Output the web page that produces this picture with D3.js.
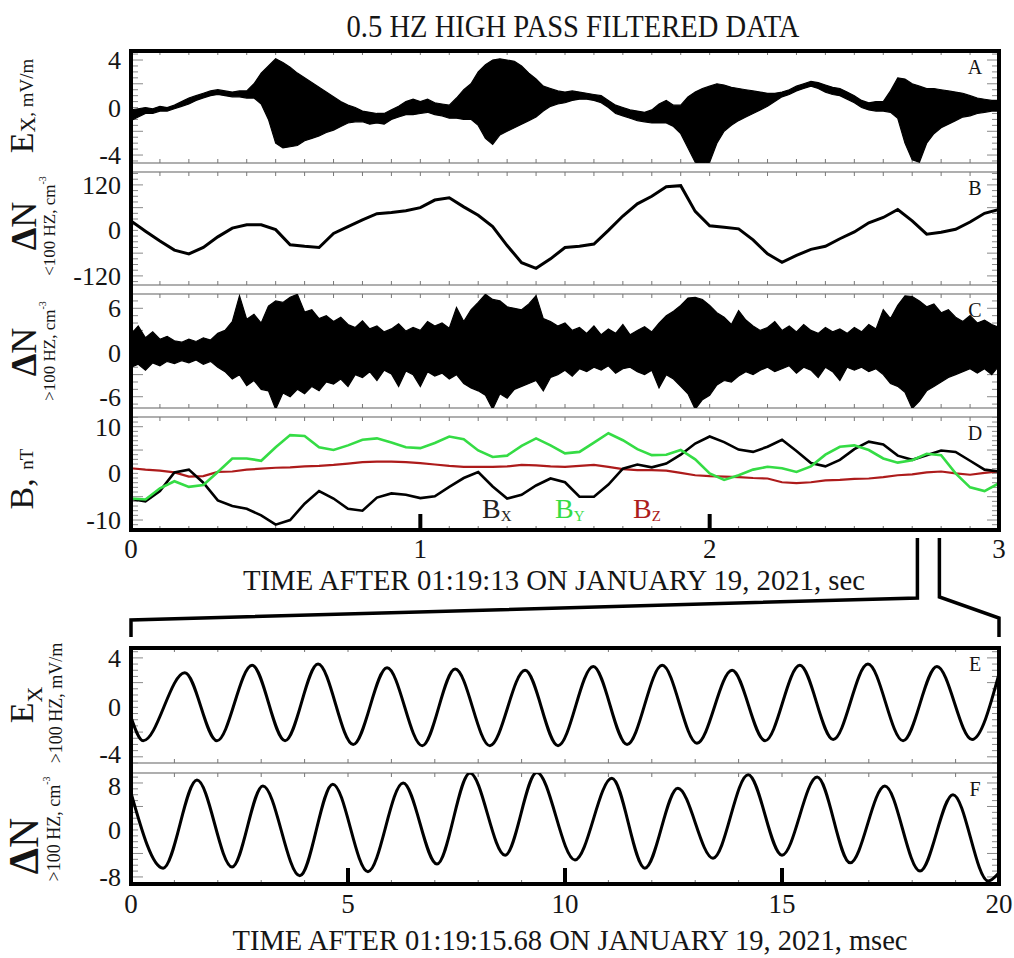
<!DOCTYPE html>
<html><head><meta charset="utf-8">
<script src="https://cdn.jsdelivr.net/npm/d3@7"></script>
<style>
body{margin:0;background:#fff}
svg{display:block}
text{font-family:"Liberation Serif","Times New Roman",serif;fill:#151515}
</style>
</head><body>
<svg id="c" width="1014" height="958"></svg>
<script>
// ---------------- DATA ----------------
// top section: seconds after 01:19:13
const xTopTicks = [0, 1, 2, 3];
const xBotTicks = [0, 5, 10, 15, 20];
const aTicks = [-4, 0, 4];
const bTicks = [-120, 0, 120];
const cTicks = [-6, 0, 6];
const dTicks = [-10, 0, 10];
const eTicks = [-4, 0, 4];
const fTicks = [-8, 0, 8];

// Panels A and C: envelope of the dense waveform, sampled every 0.025 s
const envTimes = d3.range(121).map(i => i * 0.025);
const aUpper = [
 -0.2,-0.1,0.0,-0.1,0.1,0.0,0.2,0.5,0.8,1.0,
 1.2,1.4,1.5,1.4,1.3,1.4,1.4,2.0,2.9,3.5,
 4.1,3.8,3.4,2.9,2.5,2.1,1.7,1.3,0.9,0.5,
 0.2,0.0,-0.3,-0.4,-0.5,-0.5,-0.2,0.1,0.5,0.7,
 0.5,0.7,0.4,0.3,0.2,0.8,1.5,2.0,3.0,3.6,
 4.0,4.1,4.0,3.9,3.5,2.9,2.4,1.8,1.6,1.4,
 1.3,1.4,1.3,1.2,1.1,1.0,0.6,0.2,0.0,-0.2,
 -0.3,-0.4,-0.2,0.3,0.6,0.2,0.2,0.9,1.3,1.6,
 1.8,2.0,1.9,1.7,1.6,1.5,1.4,1.3,1.2,1.2,
 1.3,1.5,1.8,2.0,2.2,2.1,1.9,1.7,1.6,1.3,
 1.0,0.6,0.4,0.5,0.5,1.4,2.5,2.4,2.0,1.8,
 1.6,1.6,1.5,1.4,1.3,1.2,1.0,0.8,0.7,0.6,
 0.6];
const aLower = [
 -1.1,-0.8,-0.5,-0.5,-0.3,-0.3,-0.1,0.1,0.3,0.6,
 0.8,1.0,1.1,1.0,0.9,0.9,0.8,0.8,0.3,-1.0,
 -3.0,-3.4,-3.3,-3.2,-2.8,-2.6,-2.4,-2.1,-1.9,-1.6,
 -1.3,-1.2,-1.2,-1.4,-1.3,-1.4,-1.0,-0.8,-0.6,-0.6,
 -0.5,-0.4,-0.6,-0.7,-0.9,-0.9,-1.0,-1.0,-1.5,-2.6,
 -3.1,-2.3,-2.0,-1.7,-1.4,-1.1,-0.8,-0.3,0.1,0.3,
 0.4,0.6,0.7,0.7,0.6,0.4,0.0,-0.5,-0.7,-0.9,
 -1.1,-1.2,-1.3,-1.3,-1.3,-1.6,-2.2,-3.4,-4.6,-4.7,
 -4.6,-3.0,-2.0,-1.5,-1.1,-0.8,-0.5,-0.2,0.1,0.5,
 0.9,1.1,1.4,1.6,1.8,1.6,1.3,1.1,1.0,0.7,
 0.4,0.0,-0.2,-0.3,-0.3,-0.4,-0.9,-3.0,-4.4,-4.6,
 -3.0,-2.2,-1.7,-1.4,-1.1,-0.8,-0.7,-0.5,-0.4,-0.3,
 -0.3];
const cUpper = [
 2.5,3.6,2.0,2.8,1.8,2.2,1.6,1.4,1.8,1.5,
 2.0,1.7,2.6,3.0,4.2,7.7,4.5,5.2,4.0,6.3,
 7.0,6.8,7.5,7.9,5.5,5.8,4.6,5.0,4.2,4.8,
 3.8,3.4,4.3,3.2,3.6,2.8,3.2,3.9,2.9,3.4,
 3.0,4.2,3.6,4.0,3.3,6.1,4.2,5.8,6.8,7.9,
 7.2,7.0,6.2,6.0,5.8,6.6,7.7,4.6,4.2,3.6,
 4.0,3.0,3.4,2.6,3.6,2.4,3.2,2.6,3.8,2.4,
 3.0,3.5,2.8,4.0,5.0,5.6,6.4,7.4,7.5,7.2,
 6.4,5.4,4.8,3.8,5.7,4.4,3.6,3.0,3.4,4.2,
 3.0,3.6,2.8,3.8,3.0,2.6,3.4,2.8,3.2,2.6,
 3.4,2.8,3.8,3.2,5.8,4.6,6.4,7.7,7.6,7.0,
 6.2,6.6,5.4,5.8,4.8,4.2,5.0,4.0,4.4,3.8,
 3.4];
const cLower = [
 -2.0,-1.6,-2.4,-1.4,-1.8,-1.2,-1.5,-1.1,-1.4,-1.0,
 -1.6,-1.2,-2.0,-2.6,-3.6,-3.0,-4.5,-3.8,-5.0,-5.2,
 -7.7,-5.5,-6.0,-5.0,-5.6,-4.6,-5.2,-4.0,-4.3,-3.6,
 -4.6,-3.0,-3.4,-2.6,-3.8,-2.4,-2.9,-4.6,-2.5,-3.0,
 -4.6,-2.6,-3.2,-2.8,-3.6,-3.0,-4.2,-4.8,-5.2,-5.8,
 -7.7,-5.6,-6.2,-5.0,-4.6,-4.2,-3.8,-5.2,-3.4,-3.0,
 -2.4,-3.2,-2.2,-2.6,-2.0,-2.4,-1.8,-2.8,-2.2,-2.0,
 -2.6,-3.0,-2.4,-4.8,-3.0,-3.6,-4.6,-5.6,-7.7,-6.4,
 -5.8,-4.4,-3.8,-4.0,-3.2,-2.6,-3.0,-2.4,-2.0,-2.6,
 -2.2,-1.8,-2.8,-2.0,-2.4,-3.4,-2.0,-2.6,-3.8,-2.0,
 -2.4,-2.0,-2.6,-2.2,-3.0,-4.2,-4.6,-5.4,-7.6,-6.6,
 -5.2,-4.6,-4.0,-3.4,-3.0,-2.6,-2.2,-2.8,-2.2,-3.0,
 -1.8];

// Panels B and D: sampled every 0.05 s
const slowTimes = d3.range(61).map(i => i * 0.05);
const bVals = [
 25,-2,-28,-52,-62,-45,-17,6,15,15,
 2,-38,-42,-45,-8,10,28,44,47,52,
 60,80,86,62,40,10,-40,-85,-100,-75,
 -45,-42,-36,0,38,70,90,115,118,50,
 12,8,4,-25,-62,-84,-66,-50,-42,-22,
 -4,20,34,55,25,-10,-5,3,22,45,
 55];
const bxVals = [
 -5.5,-6.0,-3.8,0.2,0.8,-2.0,-5.8,-7.0,-7.6,-9.0,
 -11.0,-10.0,-6.5,-3.8,-5.4,-7.6,-8.0,-5.2,-4.3,-4.6,
 -5.3,-4.9,-2.9,-1.0,0.3,-2.8,-5.4,-4.6,-2.6,-1.1,
 -1.9,-5.0,-5.0,-2.4,1.0,1.9,1.3,2.1,4.0,6.4,
 7.9,6.7,5.1,4.6,5.7,7.2,4.8,2.2,1.5,2.9,
 5.2,6.8,6.2,3.8,2.9,3.9,4.9,4.6,2.7,0.8,
 0.4];
const byVals = [
 -5.4,-5.6,-3.2,-1.7,-2.9,-2.5,0.3,3.2,3.2,2.7,
 5.6,8.2,8.0,5.6,5.0,6.0,7.2,7.5,6.6,5.6,
 5.4,6.5,7.9,7.3,4.9,3.5,3.8,5.9,7.5,6.0,
 4.3,4.6,6.6,8.6,7.1,5.2,3.9,4.0,5.0,3.0,
 0.0,-1.4,-0.4,0.8,1.4,1.1,0.3,1.5,4.0,5.7,
 6.0,5.0,3.2,2.3,2.8,4.2,3.9,0.0,-3.0,-3.8,
 -2.1];
const bzVals = [
 1.1,0.8,0.6,0.2,-0.7,-0.6,0.3,0.4,0.8,1.0,
 1.2,1.3,1.5,1.6,1.8,2.1,2.4,2.5,2.5,2.4,
 2.2,1.9,1.6,1.4,1.4,1.4,1.5,1.8,1.7,1.5,
 1.4,1.6,1.8,1.4,0.9,0.7,0.7,0.6,0.1,-0.4,
 -0.6,-0.7,-0.8,-1.0,-1.1,-1.9,-2.1,-1.9,-1.5,-1.4,
 -1.2,-1.1,-0.8,-0.4,-0.2,0.2,0.4,0.0,-0.3,0.1,
 0.4];

// Panels E and F: extrema of the waves, msec after 01:19:15.68
const eTimes = [0,0.28,1.24,1.98,2.79,3.55,4.31,5.12,5.90,6.71,7.47,8.27,9.08,9.84,
 10.65,11.43,12.24,13.04,13.85,14.61,15.41,16.18,16.98,17.79,18.57,19.38,20];
const eVals = [-0.8,-2.7,2.8,-2.7,3.4,-2.7,3.5,-3.0,3.2,-3.1,3.1,-3.1,3.0,-3.1,
 3.3,-3.0,3.4,-2.9,3.0,-2.7,3.4,-2.6,3.5,-2.7,3.3,-2.6,2.7];
const fTimes = [0,0.74,1.52,2.33,3.04,3.89,4.65,5.46,6.27,7.05,7.81,8.62,9.35,10.23,
 11.08,11.84,12.60,13.41,14.22,15.00,15.81,16.57,17.37,18.18,18.94,19.75,20];
const fVals = [6.3,-6.5,8.5,-6.3,7.5,-7.8,7.8,-7.1,8.0,-5.8,9.7,-4.3,9.8,-5.1,
 8.8,-6.5,7.1,-4.8,9.4,-4.3,9.0,-5.6,7.5,-7.0,6.0,-8.7,-7.3];

const zoomWindow = [2.718, 2.794]; // bracket on the top time axis (sec)

// ---------------- CHART ----------------
const svg = d3.select("#c");
svg.append("rect").attr("width",1014).attr("height",958).attr("fill","#fff");
const X0 = 131, X1 = 999;
const xTop = d3.scaleLinear().domain([0,3]).range([X0,X1]);
const xBot = d3.scaleLinear().domain([0,20]).range([X0,X1]);
const GREEN = "#35dc45", RED = "#ad1b1b";
const TICKFS = 26;

const panelDefs = [
 {id:"A", x:xTop, y0:51, y1:163, dom:[-4.67,4.76], minor:0.5, major:2, ticks:aTicks, xstep:0.1, nudge:{}},
 {id:"B", x:xTop, y0:172, y1:285, dom:[-144,154], minor:15, major:60, ticks:bTicks, xstep:0.1, nudge:{}},
 {id:"C", x:xTop, y0:294, y1:408, dom:[-7.53,7.94], minor:1, major:3, ticks:cTicks, xstep:0.1, nudge:{}},
 {id:"D", x:xTop, y0:417, y1:530, dom:[-12.14,12.08], minor:1, major:5, ticks:dTicks, xstep:0.1, nudge:{}},
 {id:"E", x:xBot, y0:648, y1:763, dom:[-4.5,4.8], minor:0.5, major:2, ticks:eTicks, xstep:1, nudge:{"-4":-3}},
 {id:"F", x:xBot, y0:773, y1:884, dom:[-9.2,9.7], minor:1, major:4, ticks:fTicks, xstep:1, nudge:{"8":3}},
];
const P = {};
panelDefs.forEach(p => {
  p.y = d3.scaleLinear().domain(p.dom).range([p.y1, p.y0]);
  P[p.id] = p;
  const g = svg.append("g");
  g.append("rect").attr("x",X0).attr("y",p.y0).attr("width",X1-X0).attr("height",p.y1-p.y0)
    .attr("fill","none").attr("stroke","#7a7a7a").attr("stroke-width",1.2);
  const [d0,d1] = p.x.domain();
  const xt = d3.range(d0, d1 + 1e-9, p.xstep);
  g.selectAll(null).data(xt).join("line")
    .attr("x1",d=>p.x(d)).attr("x2",d=>p.x(d)).attr("y1",p.y0).attr("y2",p.y0+4)
    .attr("stroke","#777").attr("stroke-width",1);
  g.selectAll(null).data(xt).join("line")
    .attr("x1",d=>p.x(d)).attr("x2",d=>p.x(d)).attr("y1",p.y1-4).attr("y2",p.y1)
    .attr("stroke","#777").attr("stroke-width",1);
  const yt = d3.range(Math.ceil(p.dom[0]/p.minor)*p.minor, p.dom[1], p.minor);
  const len = d => (Math.abs(d/p.major - Math.round(d/p.major)) < 1e-6 && Math.abs(d) > 1e-9) ? 12 : 7;
  g.selectAll(null).data(yt).join("line")
    .attr("x1",X0).attr("x2",d=>X0+len(d)).attr("y1",d=>p.y(d)).attr("y2",d=>p.y(d))
    .attr("stroke","#8a8a8a").attr("stroke-width",1);
  g.selectAll(null).data(yt).join("line")
    .attr("x1",d=>X1-len(d)).attr("x2",X1).attr("y1",d=>p.y(d)).attr("y2",d=>p.y(d))
    .attr("stroke","#8a8a8a").attr("stroke-width",1);
  g.selectAll(null).data(p.ticks).join("text")
    .attr("x",121).attr("y",d=>p.y(d) + (p.nudge[String(d)]||0)).attr("dy","0.35em").attr("text-anchor","end")
    .attr("font-size",TICKFS).text(d=>d);
  g.append("text").attr("x",975).attr("y",p.y0+23).attr("text-anchor","middle")
    .attr("font-size",20).text(p.id);
  svg.append("clipPath").attr("id","clip"+p.id).append("rect")
    .attr("x",X0).attr("y",p.y0).attr("width",X1-X0).attr("height",p.y1-p.y0);
  p.plot = svg.append("g").attr("clip-path",`url(#clip${p.id})`);
});

// Panel A
P.A.plot.append("path")
  .attr("d", d3.area().x((d,i)=>xTop(envTimes[i])).y0((d,i)=>P.A.y(aLower[i])).y1(d=>P.A.y(d))(aUpper))
  .attr("fill","#000").attr("stroke","#000").attr("stroke-width",1.2);
// Panel B
P.B.plot.append("path")
  .attr("d", d3.line().x((d,i)=>xTop(slowTimes[i])).y(d=>P.B.y(d))(bVals))
  .attr("fill","none").attr("stroke","#000").attr("stroke-width",3);
// Panel C
P.C.plot.append("path")
  .attr("d", d3.area().x((d,i)=>xTop(envTimes[i])).y0((d,i)=>P.C.y(cLower[i])).y1(d=>P.C.y(d))(cUpper))
  .attr("fill","#000").attr("stroke","#000").attr("stroke-width",1.2);
// Panel D
const dLine = d3.line().x((d,i)=>xTop(slowTimes[i])).y(d=>P.D.y(d));
P.D.plot.append("path").attr("d",dLine(bzVals)).attr("fill","none").attr("stroke",RED).attr("stroke-width",2.2);
P.D.plot.append("path").attr("d",dLine(bxVals)).attr("fill","none").attr("stroke","#000").attr("stroke-width",2.6);
P.D.plot.append("path").attr("d",dLine(byVals)).attr("fill","none").attr("stroke",GREEN).attr("stroke-width",2.6);
// Panels E and F
P.E.plot.append("path")
  .attr("d", d3.line().curve(d3.curveMonotoneX).x((d,i)=>xBot(eTimes[i])).y(d=>P.E.y(d))(eVals))
  .attr("fill","none").attr("stroke","#000").attr("stroke-width",3);
P.F.plot.append("path")
  .attr("d", d3.line().curve(d3.curveMonotoneX).x((d,i)=>xBot(fTimes[i])).y(d=>P.F.y(d))(fVals))
  .attr("fill","none").attr("stroke","#000").attr("stroke-width",3);

// legend in D
const leg = [["B","X","#222",482],["B","Y",GREEN,555],["B","Z",RED,633]];
leg.forEach(([b,s,c,x]) => {
  const t = svg.append("text").attr("x",x).attr("y",518).attr("font-size",28).style("fill",c);
  t.append("tspan").text(b);
  t.append("tspan").attr("font-size",15).attr("dy",3).text(s);
});

// thick major ticks
svg.selectAll(null).data(xTopTicks.slice(1,-1)).join("line")
  .attr("x1",d=>xTop(d)).attr("x2",d=>xTop(d)).attr("y1",P.D.y1).attr("y2",P.D.y1-16)
  .attr("stroke","#000").attr("stroke-width",4);
svg.selectAll(null).data(xBotTicks.slice(1,-1)).join("line")
  .attr("x1",d=>xBot(d)).attr("x2",d=>xBot(d)).attr("y1",P.F.y1).attr("y2",P.F.y1-16)
  .attr("stroke","#000").attr("stroke-width",4);

// thick frames
svg.append("rect").attr("x",X0).attr("y",P.A.y0).attr("width",X1-X0).attr("height",P.D.y1-P.A.y0)
  .attr("fill","none").attr("stroke","#000").attr("stroke-width",4);
svg.append("rect").attr("x",X0).attr("y",P.E.y0).attr("width",X1-X0).attr("height",P.F.y1-P.E.y0)
  .attr("fill","none").attr("stroke","#000").attr("stroke-width",4);

// x tick labels
svg.selectAll(null).data(xTopTicks).join("text")
  .attr("x",d=>xTop(d)).attr("y",558).attr("text-anchor","middle").attr("font-size",TICKFS+1).text(d=>d);
svg.selectAll(null).data(xBotTicks).join("text")
  .attr("x",d=>xBot(d)).attr("y",913).attr("text-anchor","middle").attr("font-size",TICKFS+1).text(d=>d);

// titles
svg.append("text").attr("x",573).attr("y",37).attr("text-anchor","middle").attr("font-size",31)
  .attr("textLength",453).attr("lengthAdjust","spacingAndGlyphs").text("0.5 HZ HIGH PASS FILTERED DATA");
svg.append("text").attr("x",554).attr("y",590).attr("text-anchor","middle").attr("font-size",29)
  .attr("textLength",622).attr("lengthAdjust","spacingAndGlyphs").text("TIME AFTER 01:19:13 ON JANUARY 19, 2021, sec");
svg.append("text").attr("x",570).attr("y",950).attr("text-anchor","middle").attr("font-size",30)
  .attr("textLength",675).attr("lengthAdjust","spacingAndGlyphs").text("TIME AFTER 01:19:15.68 ON JANUARY 19, 2021, msec");

// zoom connectors
const zc = svg.append("g").attr("fill","none").attr("stroke","#000").attr("stroke-width",3.5);
zc.append("path").attr("d",
  `M${xTop(zoomWindow[0])},${P.D.y1+8}V${P.D.y1+68}L${xBot(0)},${P.D.y1+90}V${P.E.y0-11}`);
zc.append("path").attr("d",
  `M${xTop(zoomWindow[1])},${P.D.y1+8}V${P.D.y1+67}L${xBot(20)},${P.D.y1+88}V${P.E.y0-11}`);

// rotated y labels
function vlabel(cx, cy, parts){
  const t = svg.append("text").attr("transform",`translate(${cx},${cy}) rotate(-90)`)
    .attr("text-anchor","middle");
  parts.forEach(p => {
    const s = t.append("tspan").attr("font-size",p[1]).text(p[0]);
    if (p[2]) s.attr("dy",p[2]);
    if (p[3]) s.attr("font-weight",p[3]);
  });
}
vlabel(33,106,[["E",34],["X",22,2],[", ",19,-2],["mV/m",19]]);
vlabel(36,226,[["\u0394",36,0,"bold"],["N",36]]);
vlabel(55,226,[["<100 HZ, cm",17],["-3",10,-9]]);
vlabel(36,352,[["\u0394",36,0,"bold"],["N",36]]);
vlabel(55,351,[[">100 HZ, cm",17],["-3",10,-9]]);
vlabel(33,479,[["B, ",34],["nT",19]]);
vlabel(33,705,[["E",34],["X",22,9]]);
vlabel(62,703,[[">100 HZ, mV/m",18]]);
vlabel(38,846,[["\u0394",42,0,"bold"],["N",42]]);
vlabel(60,829,[[">100 HZ, cm",18],["-3",10,-10]]);
</script>
</body></html>
